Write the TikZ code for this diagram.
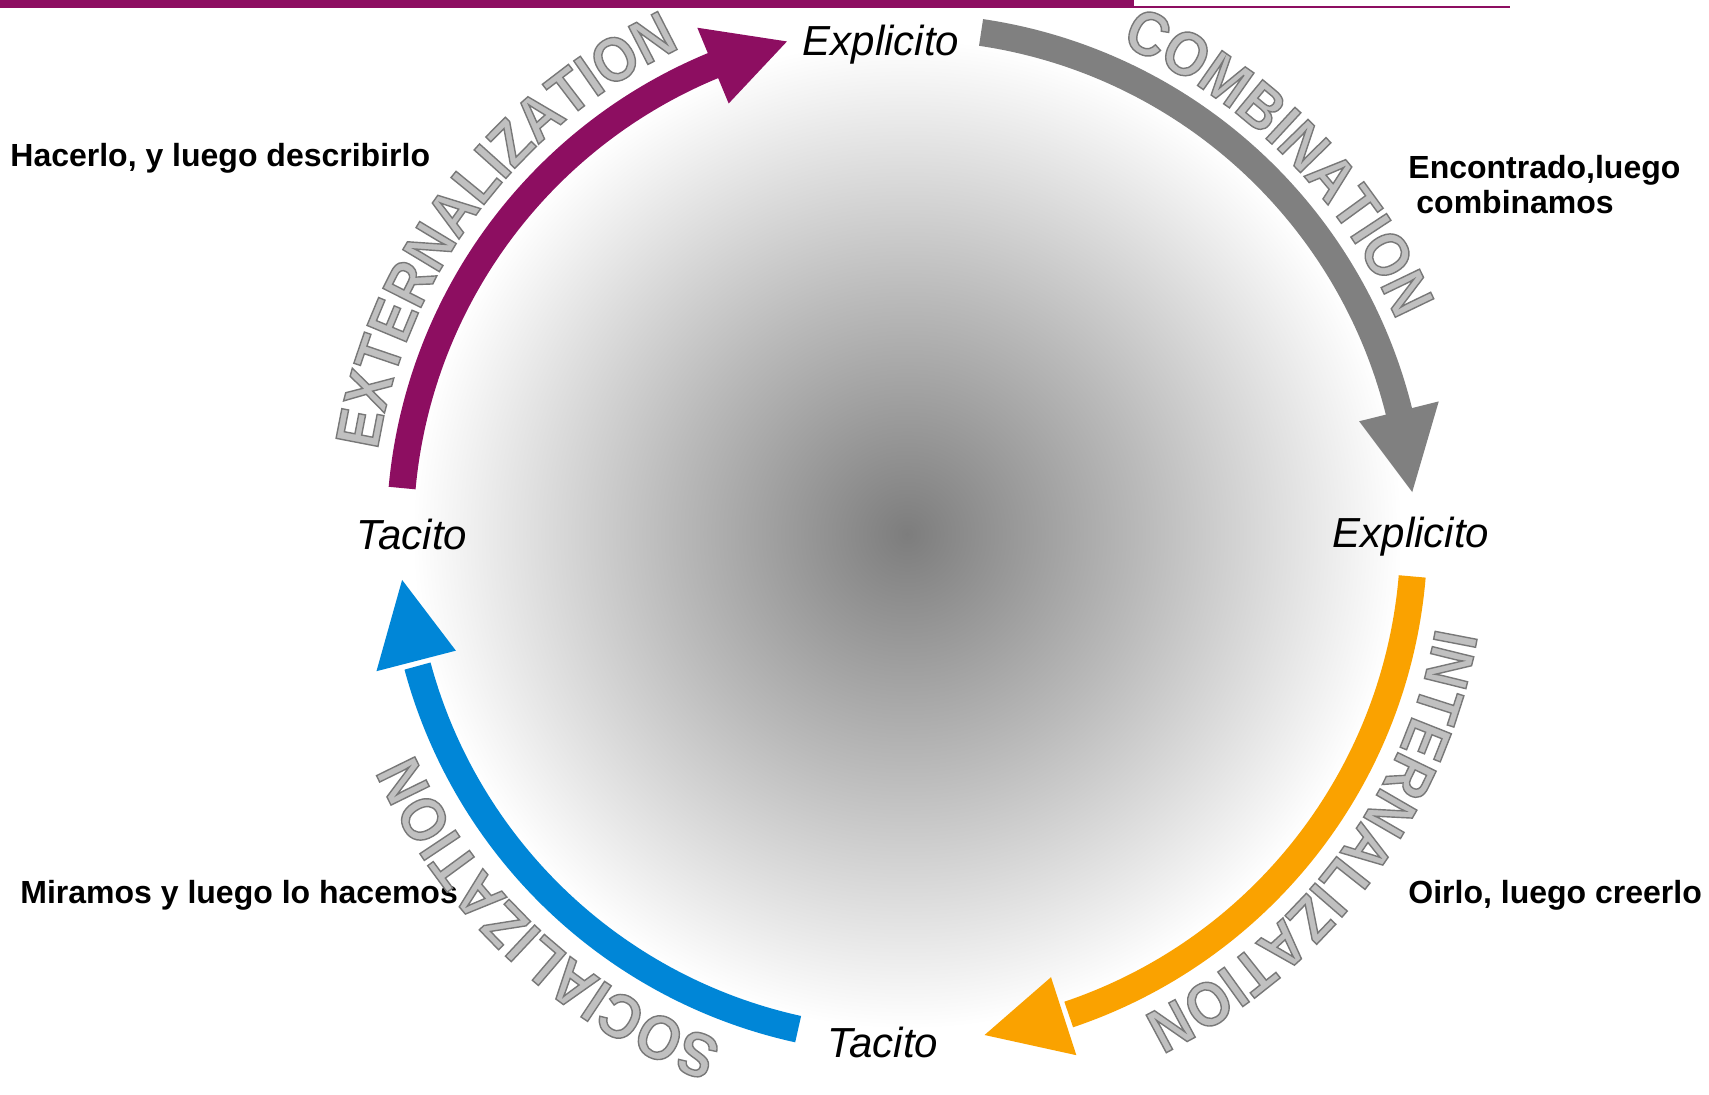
\documentclass[tikz,border=0pt]{standalone}
\usepackage{fontspec}
\setmainfont{Liberation Sans}
\newfontfamily\arcfam{Liberation Sans}[FakeStretch=0.9]
\usetikzlibrary{decorations.text}
\definecolor{kmag}{RGB}{141,14,97}
\definecolor{kgray}{RGB}{128,128,128}
\definecolor{korange}{RGB}{250,162,0}
\definecolor{kblue}{RGB}{0,134,215}
\definecolor{arcfill}{RGB}{192,192,192}
\pgfdeclareradialshading{kshade}{\pgfpoint{0bp}{0bp}}{color(0bp)=(black!51); color(12bp)=(black!27); color(25bp)=(white); color(50bp)=(white)}
\newcommand\kout{\special{pdf:literal direct 2 Tr 0.7 w 0.47 G}}
\newcommand\kreset{\special{pdf:literal direct 0 Tr}}
\newcommand\arcfnt{\arcfam\bfseries\fontsize{31pt}{31pt}\selectfont\color{arcfill}\kout}
\tikzset{
  lab/.style={font=\fontsize{21pt}{24pt}\selectfont\itshape, inner sep=0pt, anchor=base},
  note/.style={font=\fontsize{16pt}{19pt}\selectfont\bfseries, inner sep=0pt, anchor=base west},
  shaft/.style={line width=13.5pt},
  arctext/.style={decorate, decoration={text along path, text align=center, text={#1}}}
}
\newcommand\cyc[5]{% colour, start angle, shaft end angle, head base angle, tip angle
  \draw[shaft, #1] (#2:507) arc[start angle=#2, end angle=#3, radius=507];
  \fill[#1] (#4:466) -- (#4:548) -- (#5:507) -- cycle;
}
\begin{document}
\begin{tikzpicture}[x=0.5pt,y=0.5pt]
\useasboundingbox (0,0) rectangle (1709,1094);
\fill[white] (0,0) rectangle (1709,1094);
% top bar
\fill[kmag] (0,1086) rectangle (1134,1094);
\draw[kmag, line width=1pt] (1134,1086.5) -- (1510,1086.5);
\begin{scope}[shift={(907,560)}]
  \coordinate (C) at (0,0);
  \shade[shading=kshade] (C) circle (495);
  \cyc{kmag}{174.8}{111.8}{112.5}{103.7}
  \cyc{kgray}{81.6}{13.4}{14.0}{4.75}
  \cyc{korange}{-4.8}{-71.4}{-72.0}{-81.2}
  \cyc{kblue}{257.6}{195.1}{194.5}{185.2}
\end{scope}
% labels
\node[lab] (ex1) at (881,1038) {Explicito};
\node[lab] (ex2) at (1411,546) {Explicito};
\node[lab] (ta1) at (412,544) {Tacito};
\node[lab] (ta2) at (883,37) {Tacito};
\node[note] (n1) at (10,927) {Hacerlo, y luego describirlo};
\node[note] (n2) at (1408,915) {Encontrado,luego};
\node[note] (n3) at (1416,880) {combinamos};
\node[note] (n4) at (20,191) {Miramos y luego lo hacemos};
\node[note] (n5) at (1408,191) {Oirlo, luego creerlo};
% curved outlined words
\begin{scope}[shift={(907,560)}]
  \path[arctext={|\arcfnt|EXTERNALIZATION}] (180:536) arc[start angle=180, end angle=106, radius=536];
  \path[arctext={|\arcfnt|COMBINATION}] (82:534) arc[start angle=82, end angle=8, radius=534];
  \path[arctext={|\arcfnt|INTERNALIZATION}] (-2:537) arc[start angle=-2, end angle=-72, radius=537];
  \path[arctext={|\arcfnt|SOCIALIZATION}] (262:540) arc[start angle=262, end angle=192, radius=540];
  \node[inner sep=0pt] (rst) at (0,0) {\kreset};
\end{scope}
\end{tikzpicture}
\end{document}
